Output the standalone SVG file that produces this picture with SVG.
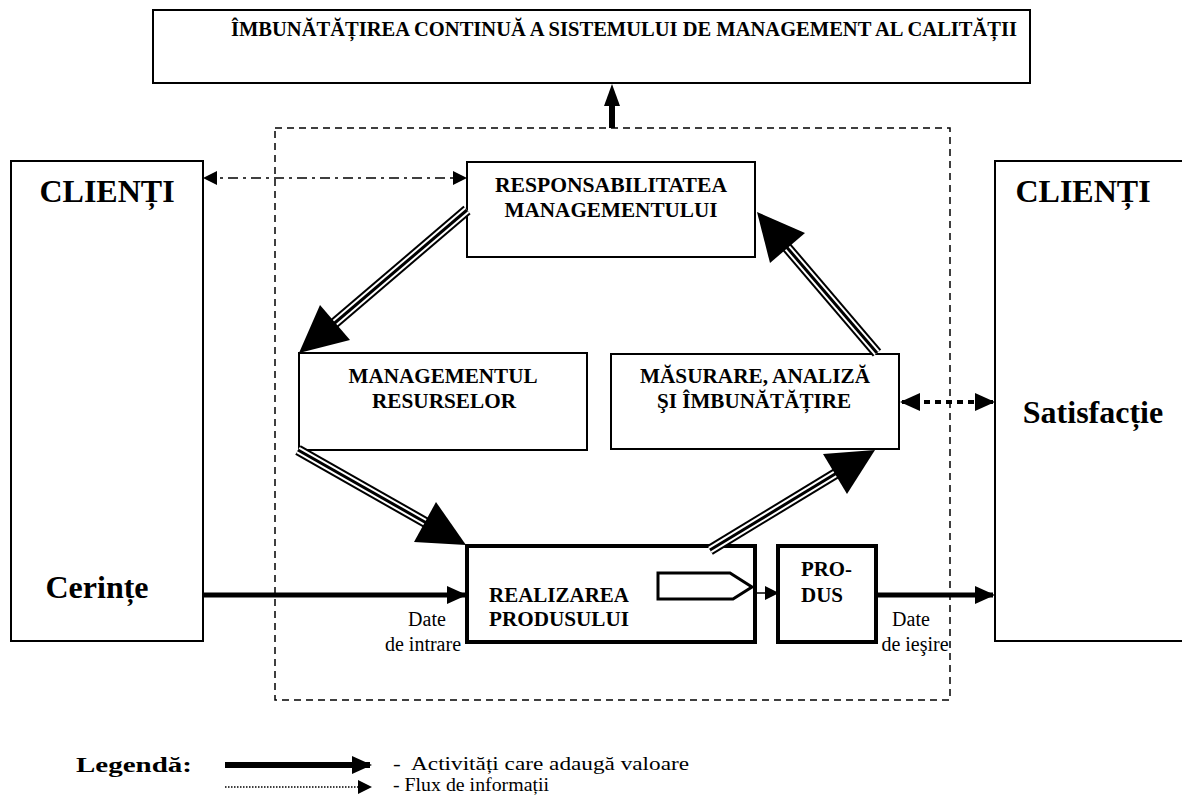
<svg xmlns="http://www.w3.org/2000/svg" width="1182" height="796" viewBox="0 0 1182 796">
<defs>
<style>
.box{fill:#fff;stroke:#000;stroke-width:2}
.thick{fill:#fff;stroke:#000;stroke-width:4}
.b{font-family:'Liberation Serif','Times New Roman','DejaVu Serif',serif;font-weight:bold;fill:#000}
.r{font-family:'Liberation Serif','Times New Roman','DejaVu Serif',serif;font-weight:normal;fill:#000}
.t1{stroke:#000;stroke-width:11;fill:none}
.t2{stroke:#fff;stroke-width:7;fill:none}
.t3{stroke:#000;stroke-width:3;fill:none}
</style>
<marker id="ah" markerWidth="14" markerHeight="14" refX="12" refY="7" orient="auto" markerUnits="userSpaceOnUse"><path d="M0,0 L14,7 L0,14 Z" fill="#000"/></marker>
<marker id="ahs" markerWidth="14" markerHeight="14" refX="12" refY="7" orient="auto-start-reverse" markerUnits="userSpaceOnUse"><path d="M0,0 L14,7 L0,14 Z" fill="#000"/></marker>
<marker id="ahb" markerWidth="20" markerHeight="18" refX="18" refY="9" orient="auto-start-reverse" markerUnits="userSpaceOnUse"><path d="M0,0 L20,9 L0,18 Z" fill="#000"/></marker>
</defs>
<rect width="1182" height="796" fill="#fff"/>

<g id="boundary">
<rect x="275" y="128" width="675" height="572" fill="none" stroke="#000" stroke-width="1.5" stroke-dasharray="7,5"/>
</g>

<g id="title">
<rect class="box" x="153" y="10" width="877" height="73" stroke-width="1.5"/>
<text class="b" x="231" y="36" font-size="20" textLength="786" lengthAdjust="spacingAndGlyphs">ÎMBUNĂTĂȚIREA CONTINUĂ A SISTEMULUI DE MANAGEMENT AL CALITĂȚII</text>
</g>

<g id="clienti-left">
<rect class="box" x="11" y="161" width="192" height="480" stroke-width="1.5"/>
<text class="b" x="107" y="202" font-size="32" text-anchor="middle">CLIENȚI</text>
<text class="b" x="97" y="598" font-size="32" text-anchor="middle">Cerințe</text>
</g>

<g id="clienti-right">
<rect class="box" x="995" y="161" width="200" height="480" stroke-width="1.5"/>
<text class="b" x="1083" y="202" font-size="32" text-anchor="middle">CLIENȚI</text>
<text class="b" x="1093" y="423" font-size="32" text-anchor="middle">Satisfacție</text>
</g>

<g id="responsabilitatea">
<rect class="box" x="467" y="162" width="288" height="95"/>
<text class="b" x="611" y="192" font-size="20" text-anchor="middle" textLength="232" lengthAdjust="spacingAndGlyphs">RESPONSABILITATEA</text>
<text class="b" x="611" y="217" font-size="20" text-anchor="middle" textLength="213" lengthAdjust="spacingAndGlyphs">MANAGEMENTULUI</text>
</g>

<g id="resurse">
<rect class="box" x="299" y="353" width="288" height="97"/>
<text class="b" x="443" y="383" font-size="20" text-anchor="middle" textLength="189" lengthAdjust="spacingAndGlyphs">MANAGEMENTUL</text>
<text class="b" x="444" y="408" font-size="20" text-anchor="middle" textLength="144" lengthAdjust="spacingAndGlyphs">RESURSELOR</text>
</g>

<g id="masurare">
<rect class="box" x="611" y="354" width="288" height="95"/>
<text class="b" x="755" y="383" font-size="20" text-anchor="middle" textLength="230" lengthAdjust="spacingAndGlyphs">MĂSURARE, ANALIZĂ</text>
<text class="b" x="754" y="408" font-size="20" text-anchor="middle" textLength="194" lengthAdjust="spacingAndGlyphs">ŞI ÎMBUNĂTĂȚIRE</text>
</g>

<g id="realizarea">
<rect class="thick" x="467" y="546" width="288" height="96"/>
<text class="b" x="489" y="602" font-size="20" textLength="140" lengthAdjust="spacingAndGlyphs">REALIZAREA</text>
<text class="b" x="489" y="626" font-size="20" textLength="140" lengthAdjust="spacingAndGlyphs">PRODUSULUI</text>
<polygon points="658,573 730,573 752,587 733,599 658,599" fill="#fff" stroke="#000" stroke-width="3"/>
</g>

<g id="produs">
<rect class="thick" x="778" y="546" width="98" height="96"/>
<text class="b" x="801" y="576" font-size="20" textLength="51" lengthAdjust="spacingAndGlyphs">PRO-</text>
<text class="b" x="801" y="602" font-size="20" textLength="42" lengthAdjust="spacingAndGlyphs">DUS</text>
</g>

<g id="connectors">
<line x1="612" y1="128" x2="612" y2="104" stroke="#000" stroke-width="6"/>
<polygon points="612,84 620,106 604,106" fill="#000"/>
<line x1="205" y1="178" x2="465" y2="178" stroke="#000" stroke-width="1.5" stroke-dasharray="10,5,3,5" marker-start="url(#ahs)" marker-end="url(#ahs)"/>
<line x1="902" y1="402" x2="993" y2="402" stroke="#000" stroke-width="4" stroke-dasharray="6,5" marker-start="url(#ahb)" marker-end="url(#ahb)"/>
<line x1="203" y1="595" x2="465" y2="595" stroke="#000" stroke-width="5" marker-end="url(#ahb)"/>
<line x1="753" y1="593" x2="777" y2="593" stroke="#000" stroke-width="1.5" marker-end="url(#ah)"/>
<line x1="876" y1="595" x2="993" y2="595" stroke="#000" stroke-width="5" marker-end="url(#ahb)"/>
<g>
<path class="t1" d="M467,210 L330,327"/><path class="t2" d="M467,210 L330,327"/><path class="t3" d="M467,210 L330,327"/>
<polygon points="299,353 350,340 320,305" fill="#000"/>
</g>
<g>
<path class="t1" d="M298,450 L430,525"/><path class="t2" d="M298,450 L430,525"/><path class="t3" d="M298,450 L430,525"/>
<polygon points="466,545 414,542 436,502" fill="#000"/>
</g>
<g>
<path class="t1" d="M710,550 L840,471"/><path class="t2" d="M710,550 L840,471"/><path class="t3" d="M710,550 L840,471"/>
<polygon points="875,450 847,494 823,454" fill="#000"/>
</g>
<g>
<path class="t1" d="M877,353 L784,244"/><path class="t2" d="M877,353 L784,244"/><path class="t3" d="M877,353 L784,244"/>
<polygon points="757,212 805,233 770,263" fill="#000"/>
</g>
</g>

<g id="labels">
<text class="r" x="427" y="626" font-size="20" text-anchor="middle">Date</text>
<text class="r" x="423" y="651" font-size="20" text-anchor="middle">de intrare</text>
<text class="r" x="911" y="626" font-size="20" text-anchor="middle">Date</text>
<text class="r" x="915" y="651" font-size="20" text-anchor="middle">de ieşire</text>
</g>

<g id="legend">
<text class="b" x="76" y="772" font-size="21" textLength="116" lengthAdjust="spacingAndGlyphs">Legendă:</text>
<line x1="225" y1="765" x2="370" y2="765" stroke="#000" stroke-width="6" marker-end="url(#ahb)"/>
<text class="r" x="393" y="770" font-size="18" xml:space="preserve" textLength="296" lengthAdjust="spacingAndGlyphs">-  Activități care adaugă valoare</text>
<line x1="225" y1="787" x2="370" y2="787" stroke="#000" stroke-width="1.5" stroke-dasharray="1.5,1.5" marker-end="url(#ah)"/>
<text class="r" x="393" y="791" font-size="18" textLength="156" lengthAdjust="spacingAndGlyphs">- Flux de informații</text>
</g>
</svg>
